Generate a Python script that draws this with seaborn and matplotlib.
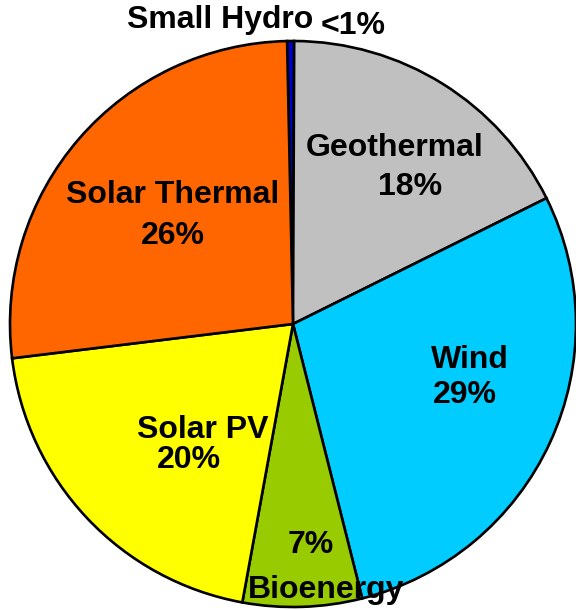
import matplotlib
matplotlib.use("Agg")
import matplotlib.pyplot as plt
import seaborn as sns

sns.set_style("white")
plt.rcParams['font.family'] = ['Liberation Sans', 'DejaVu Sans']

# clockwise from the top
sources = ["Small Hydro", "Geothermal", "Wind", "Bioenergy", "Solar PV", "Solar Thermal"]
shares = [0.4, 17.6, 28.4, 6.8, 20.2, 26.6]
pct_labels = ["<1%", "18%", "29%", "7%", "20%", "26%"]
colors = ["#0000CC", "#C0C0C0", "#00CCFF", "#99CC00", "#FFFF00", "#FF6600"]

W, H = 576, 610
cx, cy, r = 293, 324, 283

fig = plt.figure(figsize=(W / 100, H / 100), dpi=100)
ax = fig.add_axes([(cx - r) / W, (H - cy - r) / H, 2 * r / W, 2 * r / H])
ax.pie(shares, colors=colors, startangle=91.2, counterclock=False,
       wedgeprops=dict(edgecolor="black", linewidth=1.9))
ax.set_xlim(-1, 1)
ax.set_ylim(-1, 1)
ax.set_aspect("auto")
ax.axis("off")


def put(text, px, py):
    fig.text(px / W, 1 - py / H, text, ha="center", va="center",
             fontsize=23, fontweight="bold", color="black")


# label placement in pixels (name pos, pct pos)
name_pos = {
    "Small Hydro": (220, 20),
    "Geothermal": (395, 148),
    "Wind": (470, 360),
    "Bioenergy": (326, 590),
    "Solar PV": (203, 430),
    "Solar Thermal": (173, 195),
}
pct_pos = {
    "Small Hydro": (353, 26),
    "Geothermal": (410, 187),
    "Wind": (465, 395),
    "Bioenergy": (311, 545),
    "Solar PV": (189, 460),
    "Solar Thermal": (173, 236),
}
for name, pct in zip(sources, pct_labels):
    put(name, *name_pos[name])
    put(pct, *pct_pos[name])

fig.savefig("out.png", dpi=100)
